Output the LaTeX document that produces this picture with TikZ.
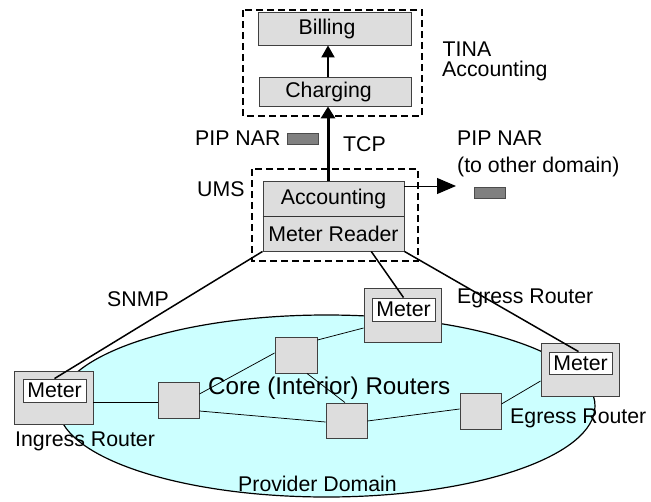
\documentclass[tikz,border=0pt]{standalone}
\usepackage{fontspec}
\setmainfont{Liberation Sans}
\usetikzlibrary{arrows.meta,calc}
\definecolor{boxgrey}{RGB}{221,221,221}
\definecolor{pipgrey}{RGB}{128,128,128}
\definecolor{domaincyan}{RGB}{204,255,255}
\begin{document}
\begin{tikzpicture}[x=1pt,y=-1pt,
  every node/.style={font=\fontsize{21.3}{24}\selectfont, inner sep=0pt},
  greybox/.style={draw=black!75, fill=boxgrey, line width=0.9pt},
  meterbox/.style={draw=black!75, fill=white, line width=0.9pt, minimum width=63pt, minimum height=23pt},
  routerbox/.style={greybox, minimum width=41pt, minimum height=36pt},
  edgebox/.style={greybox, minimum width=78pt, minimum height=53pt},
  dashbox/.style={draw, line width=1.6pt, dash pattern=on 7pt off 4pt},
  pipbox/.style={draw=black!70, fill=pipgrey, line width=0.8pt, minimum width=31pt, minimum height=11pt},
  txt/.style={anchor=base west},
  link/.style={line width=0.75pt},
  snmpline/.style={line width=1.5pt},
]
\useasboundingbox (0,0) rectangle (651,501);

% provider domain
\draw[fill=domaincyan, line width=1.2pt] (326.5,406) ellipse [x radius=268.5pt, y radius=91pt];

% dashed groups
\draw[dashbox] (243,10) rectangle (422,116);
\draw[dashbox] (252,169) rectangle (418,261);

% TINA accounting
\node[greybox, minimum width=153pt, minimum height=33pt,
      label={[name=billingtxt, xshift=-7.5pt]center:Billing}] (billing) at (334.5,28.5) {};
\node[greybox, minimum width=152pt, minimum height=29pt,
      label={[name=chargingtxt, xshift=-6.5pt]center:Charging}] (charging) at (335,91.5) {};
\coordinate (ax) at (328,0);

% UMS
\node[greybox, minimum width=141pt, minimum height=35pt] (accounting) at (333.5,198.5) {Accounting};
\node[greybox, minimum width=141pt, minimum height=35pt] (mreader) at (333.5,233.5) {Meter Reader};
\draw[line width=1.5pt, black!80] (accounting.south west) -- (accounting.south east);

% arrows
\draw[line width=2pt, -{Triangle[length=12pt,width=13pt]}] (charging.north -| ax) -- (billing.south -| ax);
\draw[line width=3pt, -{Triangle[length=12pt,width=14pt]}] (accounting.north -| ax) -- (charging.south -| ax);
\coordinate (otherdomain) at (456,186);
\draw[line width=1pt, -{Triangle[length=19pt,width=16pt]}] ($(accounting.east)+(0,-12.5)$) -- (otherdomain);

% PIP NAR records
\node[pipbox] (pipleft) at (302.5,138.5) {};
\node[pipbox] (pipright) at (490,192.5) {};

% routers
\node[edgebox, minimum width=79pt] (ingress) at (53.5,397.5) {};
\node[meterbox] (imeter) at (54.5,390.5) {Meter};
\node[edgebox, minimum width=77pt, minimum height=54pt] (egress1) at (402.5,315) {};
\node[meterbox] (emeter1) at (403.5,309.5) {Meter};
\node[edgebox] (egress2) at (580,369.5) {};
\node[meterbox, minimum height=22pt] (emeter2) at (580.5,363) {Meter};
\node[routerbox] (core1) at (178.5,400) {};
\node[routerbox, minimum width=42pt] (core2) at (296,355) {};
\node[routerbox, minimum height=35pt] (core3) at (346.5,420.5) {};
\node[routerbox] (core4) at (480.5,411) {};

% labels
\node[txt] (tina1) at (442.5,56.7) {TINA};
\node[txt] (tina2) at (442,76.7) {Accounting};
\node[txt] (pipl) at (195,145) {PIP NAR};
\node[txt] (tcp) at (343,151) {TCP};
\node[txt] (umsl) at (197,196) {UMS};
\node[txt] (pipr1) at (457,145) {PIP NAR};
\node[txt] (pipr2) at (457,172.7) {(to other domain)};
\node[txt] (snmpl) at (107,306.7) {SNMP};
\node[txt, font=\fontsize{24.2}{27}\selectfont] (corel) at (208,394.5) {Core (Interior) Routers};
\node[txt] (provl) at (238,491) {Provider Domain};
\node[txt] (ingl) at (15,446.7) {Ingress Router};
\node[txt] (egl1) at (457,303) {Egress Router};
\node[txt] (egl2) at (510,423) {Egress Router};

% links between routers
\draw[link] ($(ingress.east)+(0,4.5)$) -- ($(core1.west)+(0,2)$);
\draw[link] ($(core1.east)+(0,-6)$) -- ($(core2.west)+(0,-2)$);
\draw[link] ($(core1.east)+(0,11)$) -- ($(core3.west)+(0,1.5)$);
\draw[link] ($(core2.south)+(11,0)$) -- ($(core3.north)+(-1.5,0)$);
\draw[link] ($(core2.east)+(0,-15)$) -- ($(egress1.west)+(0,13)$);
\draw[link] ($(core3.east)+(0,0.5)$) -- ($(core4.west)+(0,-2)$);
\draw[link] ($(core4.east)+(0,-7)$) -- ($(egress2.west)+(0,11.5)$);

% SNMP lines
\draw[snmpline] (mreader.south west) -- (imeter.north);
\draw[snmpline] ($(mreader.south west)!0.766!(mreader.south east)$) -- (emeter1.north);
\draw[snmpline] (mreader.south east) -- ($(emeter2.north)+(-2,0)$);
\end{tikzpicture}
\end{document}
